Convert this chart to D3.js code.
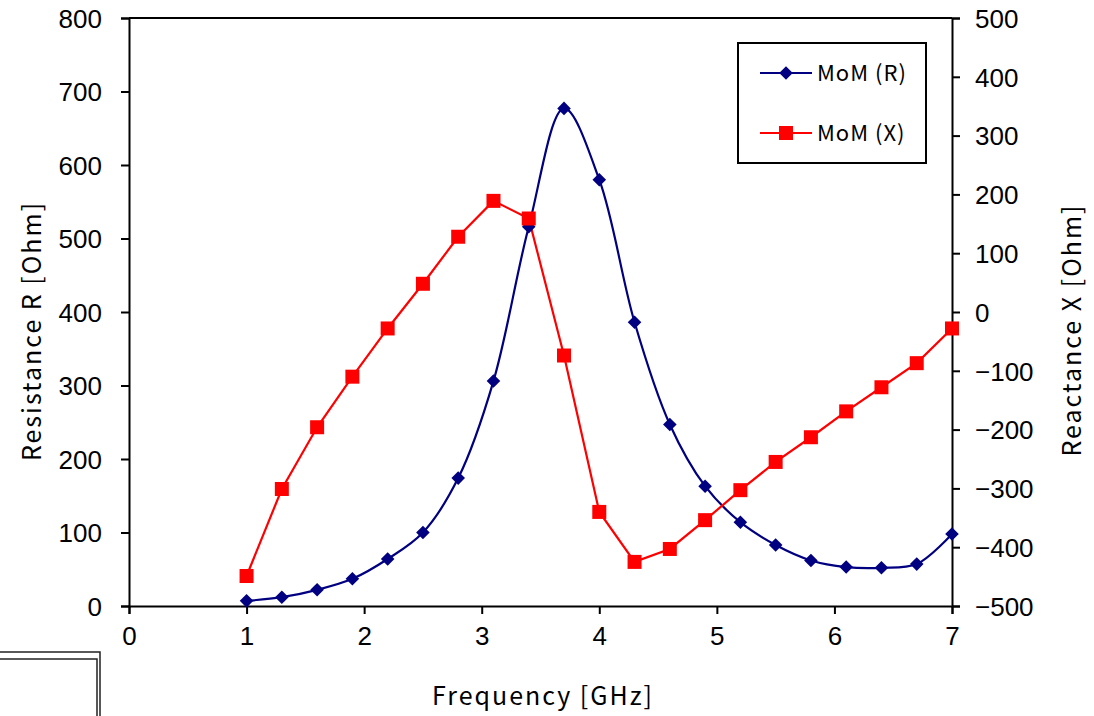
<!DOCTYPE html>
<html>
<head>
<meta charset="utf-8">
<script src="https://cdn.jsdelivr.net/npm/d3@7"></script>
<style>
  body { margin: 0; background: #fff; }
  text { fill: #000; }
</style>
</head>
<body>
<div class="chart"></div>
<script>
// frequency points (GHz)
var freq = [1.0, 1.3, 1.6, 1.9, 2.2, 2.5, 2.8, 3.1, 3.4, 3.7, 4.0, 4.3, 4.6, 4.9, 5.2, 5.5, 5.8, 6.1, 6.4, 6.7, 7.0];
// resistance R [Ohm], left axis
var resR = [7, 12, 22, 37, 64, 100, 174, 306, 516, 677, 580, 386, 247, 163, 114, 83, 62, 53, 52, 57, 98];
// reactance X [Ohm], right axis
var reacX = [-449, -301, -196, -110, -28, 48, 128, 189, 159, -74, -340, -425, -403, -354, -303, -255, -213, -169, -128, -87, -28];

var xTicks = [0, 1, 2, 3, 4, 5, 6, 7];
var yLeftTicks = [0, 100, 200, 300, 400, 500, 600, 700, 800];
var yRightTicks = [-500, -400, -300, -200, -100, 0, 100, 200, 300, 400, 500];

var width = 1094, height = 716;
var margin = {left: 129, right: 142, top: 18, bottom: 110};
var w = width - margin.left - margin.right;
var h = height - margin.top - margin.bottom;

var svg = d3.select(".chart").append("svg").attr("width", width).attr("height", height);

// leftover frame at bottom-left
svg.append("path").attr("fill", "none").attr("stroke", "#222").attr("stroke-width", 1.5)
  .attr("d", "M0,652H100V716");
svg.append("path").attr("fill", "none").attr("stroke", "#222").attr("stroke-width", 1.5)
  .attr("d", "M0,659H97V716");

var x = d3.scaleLinear().domain([0, 7]).range([0, w]);
var yL = d3.scaleLinear().domain([0, 800]).range([h, 0]);
var yR = d3.scaleLinear().domain([-500, 500]).range([h, 0]);

var g = svg.append("g").attr("transform", "translate(" + margin.left + "," + margin.top + ")");

// top border
g.append("line").attr("x1", 0).attr("x2", w).attr("y1", 0).attr("y2", 0)
  .attr("stroke", "#000").attr("stroke-width", 2);

var fmt = function(d) { return d < 0 ? "\u2212" + Math.abs(d) : "" + d; };
var tickFont = "'Liberation Sans', Arial, sans-serif";

var xAxis = g.append("g").attr("transform", "translate(0," + h + ")")
  .call(d3.axisBottom(x).tickValues(xTicks).tickSize(8).tickPadding(13).tickFormat(d3.format("d")));
var yAxisL = g.append("g")
  .call(d3.axisLeft(yL).tickValues(yLeftTicks).tickSize(8).tickPadding(19));
var yAxisR = g.append("g").attr("transform", "translate(" + w + ",0)")
  .call(d3.axisRight(yR).tickValues(yRightTicks).tickSize(8).tickPadding(15).tickFormat(fmt));

[xAxis, yAxisL, yAxisR].forEach(function(a) {
  a.select(".domain").attr("stroke-width", 2);
  a.selectAll(".tick line").attr("stroke-width", 2);
  a.selectAll(".tick text").style("font-family", tickFont).style("font-size", "26px").attr("fill", "#000");
});
yAxisL.selectAll(".tick text").attr("dy", "0.36em");
yAxisR.selectAll(".tick text").attr("dy", "0.36em");

// resistance line (smoothed)
var lineR = d3.line()
  .x(function(d, i) { return x(freq[i]); })
  .y(function(d) { return yL(d); })
  .curve(d3.curveCatmullRom.alpha(0.5));
g.append("path").attr("fill", "none").attr("stroke", "#000080").attr("stroke-width", 2.2)
  .attr("d", lineR(resR));

// reactance line
var lineX = d3.line()
  .x(function(d, i) { return x(freq[i]); })
  .y(function(d) { return yR(d); });
g.append("path").attr("fill", "none").attr("stroke", "#ff0000").attr("stroke-width", 2.2)
  .attr("d", lineX(reacX));

g.selectAll(".mR").data(resR).enter().append("path")
  .attr("d", d3.symbol().type(d3.symbolSquare).size(92))
  .attr("transform", function(d, i) { return "translate(" + x(freq[i]) + "," + yL(d) + ") rotate(45)"; })
  .attr("fill", "#000080");

g.selectAll(".mX").data(reacX).enter().append("rect")
  .attr("x", function(d, i) { return x(freq[i]) - 7; })
  .attr("y", function(d) { return yR(d) - 7; })
  .attr("width", 14).attr("height", 14)
  .attr("fill", "#ff0000");

// axis titles
var titleFont = "'Noto Sans CJK JP', 'Noto Sans', sans-serif";
svg.append("text").attr("x", 543).attr("y", 705)
  .style("text-anchor", "middle").style("font-family", titleFont).style("font-size", "25px")
  .style("letter-spacing", "2px")
  .text("Frequency [GHz]");
svg.append("text").attr("transform", "translate(41,331) rotate(-90)")
  .style("text-anchor", "middle").style("font-family", titleFont).style("font-size", "25px")
  .style("letter-spacing", "2px")
  .text("Resistance R [Ohm]");
svg.append("text").attr("transform", "translate(1081,330) rotate(-90)")
  .style("text-anchor", "middle").style("font-family", titleFont).style("font-size", "25px")
  .style("letter-spacing", "2px")
  .text("Reactance X [Ohm]");

// legend
var leg = svg.append("g");
leg.append("rect").attr("x", 738).attr("y", 43).attr("width", 188).attr("height", 120)
  .attr("fill", "#fff").attr("stroke", "#000").attr("stroke-width", 2);
var legItems = [
  {name: "MoM (R)", color: "#000080", mark: "diamond", y: 73},
  {name: "MoM (X)", color: "#ff0000", mark: "square", y: 133}
];
legItems.forEach(function(it) {
  leg.append("line").attr("x1", 760).attr("x2", 812).attr("y1", it.y).attr("y2", it.y)
    .attr("stroke", it.color).attr("stroke-width", 2);
  if (it.mark === "diamond") {
    leg.append("path").attr("d", d3.symbol().type(d3.symbolSquare).size(92))
      .attr("transform", "translate(786," + it.y + ") rotate(45)").attr("fill", it.color);
  } else {
    leg.append("rect").attr("x", 779).attr("y", it.y - 7).attr("width", 14).attr("height", 14)
      .attr("fill", it.color);
  }
  leg.append("text").attr("x", 817).attr("y", it.y).attr("dy", "0.36em")
    .style("font-family", titleFont).style("font-size", "22px")
    .style("letter-spacing", "1px").text(it.name);
});
</script>
</body>
</html>
